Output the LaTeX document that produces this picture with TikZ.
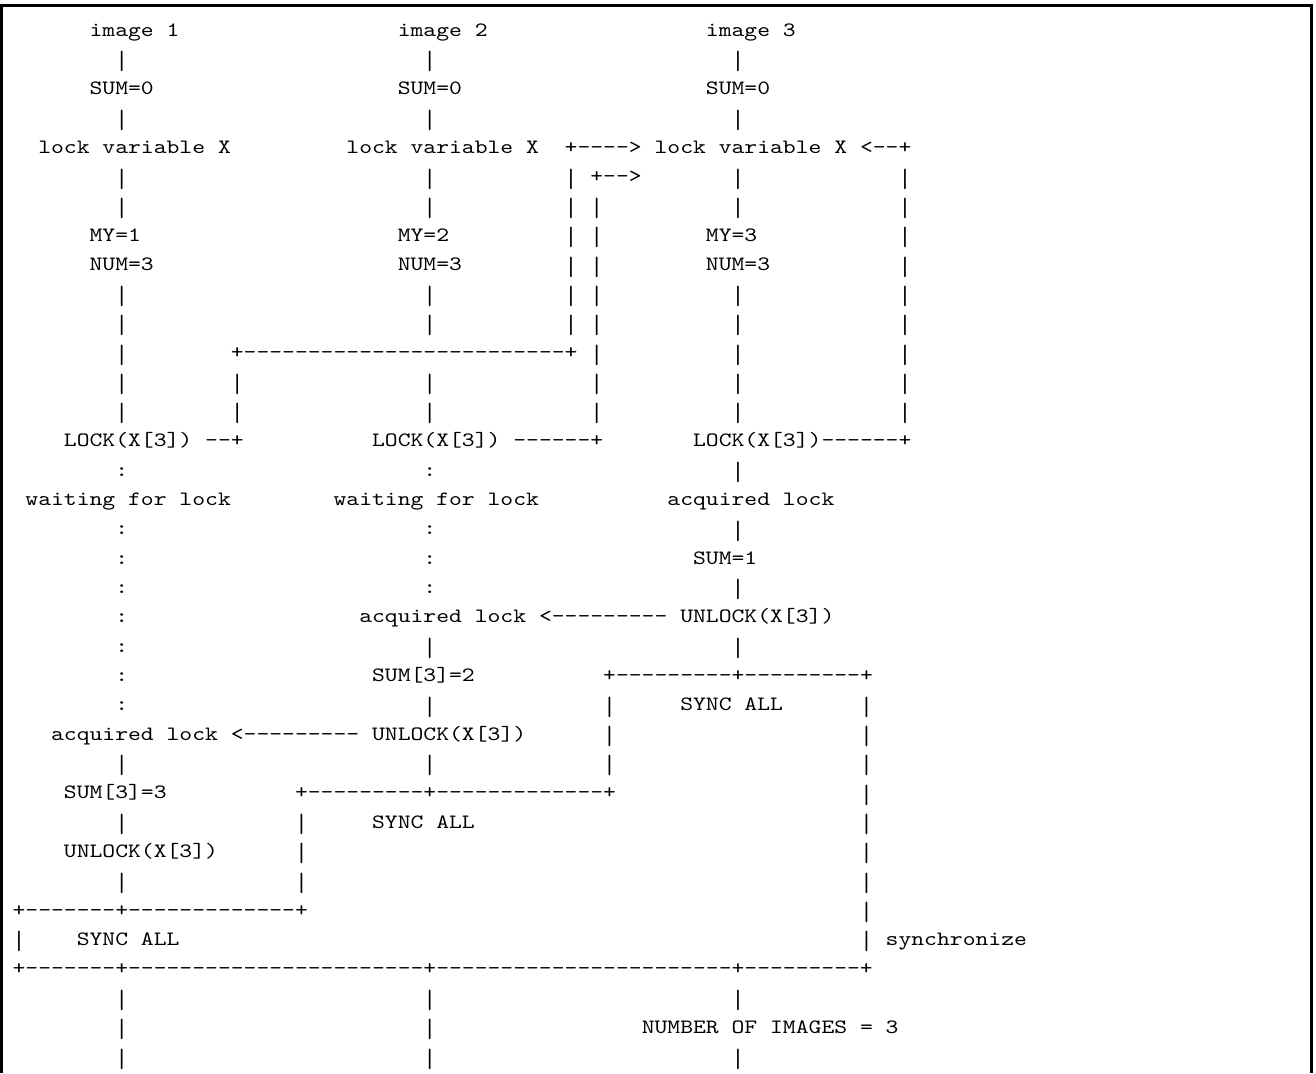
\documentclass[tikz,border=0pt]{standalone}
\usepackage{graphicx}
\usepackage{fontspec}
\newfontfamily\ascfont{lmmono10-regular.otf}[FakeStretch=1.2]
\newcommand\dashrun[1]{\foreach\k in {1,...,#1}{-\kern0pt}}
\newcommand\vbarglyph{\raisebox{-4.4pt}{\scalebox{1}[1.3]{|}}}
\tikzset{asc/.style={anchor=base west, inner sep=0pt, outer sep=0pt, text=black,
  font=\ascfont\fontsize{20.38}{24}\selectfont}}
% one text segment: name, column, row, text
\newcommand\seg[4]{\node[asc] (#1) at ({12.58+12.84*#2},{1036.8-29.33*#3}) {#4};}
% repeated single characters in one column: column, rows, character
\newcommand\vbars[3]{\foreach \r in {#2} {\node[asc] (v#1-\r) at ({12.58+12.84*#1},{1036.8-29.33*\r}) {#3};}}
\begin{document}
\begin{tikzpicture}[x=1pt,y=1pt]
\useasboundingbox (0,0) rectangle (1316,1073);
\draw[line width=3.2pt, line join=miter] (1.7,0) -- (1.7,1067.3) -- (1311.5,1067.3) -- (1311.5,0);
% headings
\seg{img1}{6}{0}{image 1}
\seg{img2}{30}{0}{image 2}
\seg{img3}{54}{0}{image 3}
\seg{sa}{6}{2}{SUM=0}
\seg{sb}{30}{2}{SUM=0}
\seg{sc}{54}{2}{SUM=0}
% row 4
\seg{lva}{2}{4}{lock variable X}
\seg{lvb}{26}{4}{lock variable X}
\seg{ara}{43}{4}{+\dashrun{4}>}
\seg{lvc}{50}{4}{lock variable X}
\seg{arb}{66}{4}{<\dashrun{2}+}
\seg{arc}{45}{5}{+\dashrun{2}>}
% rows 7-8
\seg{mya}{6}{7}{MY=1}
\seg{myb}{30}{7}{MY=2}
\seg{myc}{54}{7}{MY=3}
\seg{nma}{6}{8}{NUM=3}
\seg{nmb}{30}{8}{NUM=3}
\seg{nmc}{54}{8}{NUM=3}
% row 11
\seg{hza}{17}{11}{+\dashrun{25}+}
% row 14
\seg{lka}{4}{14}{LOCK(X[3])}
\seg{hzb}{15}{14}{\dashrun{2}+}
\seg{lkb}{28}{14}{LOCK(X[3])}
\seg{hzc}{39}{14}{\dashrun{6}+}
\seg{lkc}{53}{14}{LOCK(X[3])\dashrun{6}+}
% row 16
\seg{wta}{1}{16}{waiting for lock}
\seg{wtb}{25}{16}{waiting for lock}
\seg{aqc}{51}{16}{acquired lock}
\seg{smc}{53}{18}{SUM=1}
% row 20
\seg{aqb}{27}{20}{acquired lock}
\seg{hzd}{41}{20}{<\dashrun{9}}
\seg{ulc}{52}{20}{UNLOCK(X[3])}
% row 22-23
\seg{smb}{28}{22}{SUM[3]=2}
\seg{bxc}{46}{22}{+\dashrun{9}+\dashrun{9}+}
\seg{syc}{52}{23}{SYNC ALL}
% row 24
\seg{aqa}{3}{24}{acquired lock}
\seg{hze}{17}{24}{<\dashrun{9}}
\seg{ulb}{28}{24}{UNLOCK(X[3])}
% row 26-28
\seg{sma}{4}{26}{SUM[3]=3}
\seg{bxb}{22}{26}{+\dashrun{9}+\dashrun{13}+}
\seg{syb}{28}{27}{SYNC ALL}
\seg{ula}{4}{28}{UNLOCK(X[3])}
% rows 30-34
\seg{bxa}{0}{30}{+\dashrun{7}+\dashrun{13}+}
\seg{sya}{5}{31}{SYNC ALL}
\seg{syn}{68}{31}{synchronize}
\seg{bxall}{0}{32}{+\dashrun{7}+\dashrun{23}+\dashrun{23}+\dashrun{9}+}
\seg{num}{49}{34}{NUMBER OF IMAGES = 3}
% vertical runs
\vbars{8}{1,3,5,6,9,10,11,12,13,25,27,29,33,34,35}{\vbarglyph}
\vbars{8}{15,17,18,19,20,21,22,23}{:}
\vbars{32}{1,3,5,6,9,10,12,13,21,23,25,33,34,35}{\vbarglyph}
\vbars{32}{15,17,18,19}{:}
\vbars{56}{1,3,5,6,9,10,11,12,13,15,17,19,21,33,35}{\vbarglyph}
\vbars{43}{5,6,7,8,9,10}{\vbarglyph}
\vbars{45}{6,7,8,9,10,11,12,13}{\vbarglyph}
\vbars{69}{5,6,7,8,9,10,11,12,13}{\vbarglyph}
\vbars{17}{12,13}{\vbarglyph}
\vbars{46}{23,24,25}{\vbarglyph}
\vbars{66}{23,24,25,26,27,28,29,30,31}{\vbarglyph}
\vbars{22}{27,28,29}{\vbarglyph}
\vbars{0}{31}{\vbarglyph}
\end{tikzpicture}
\end{document}
